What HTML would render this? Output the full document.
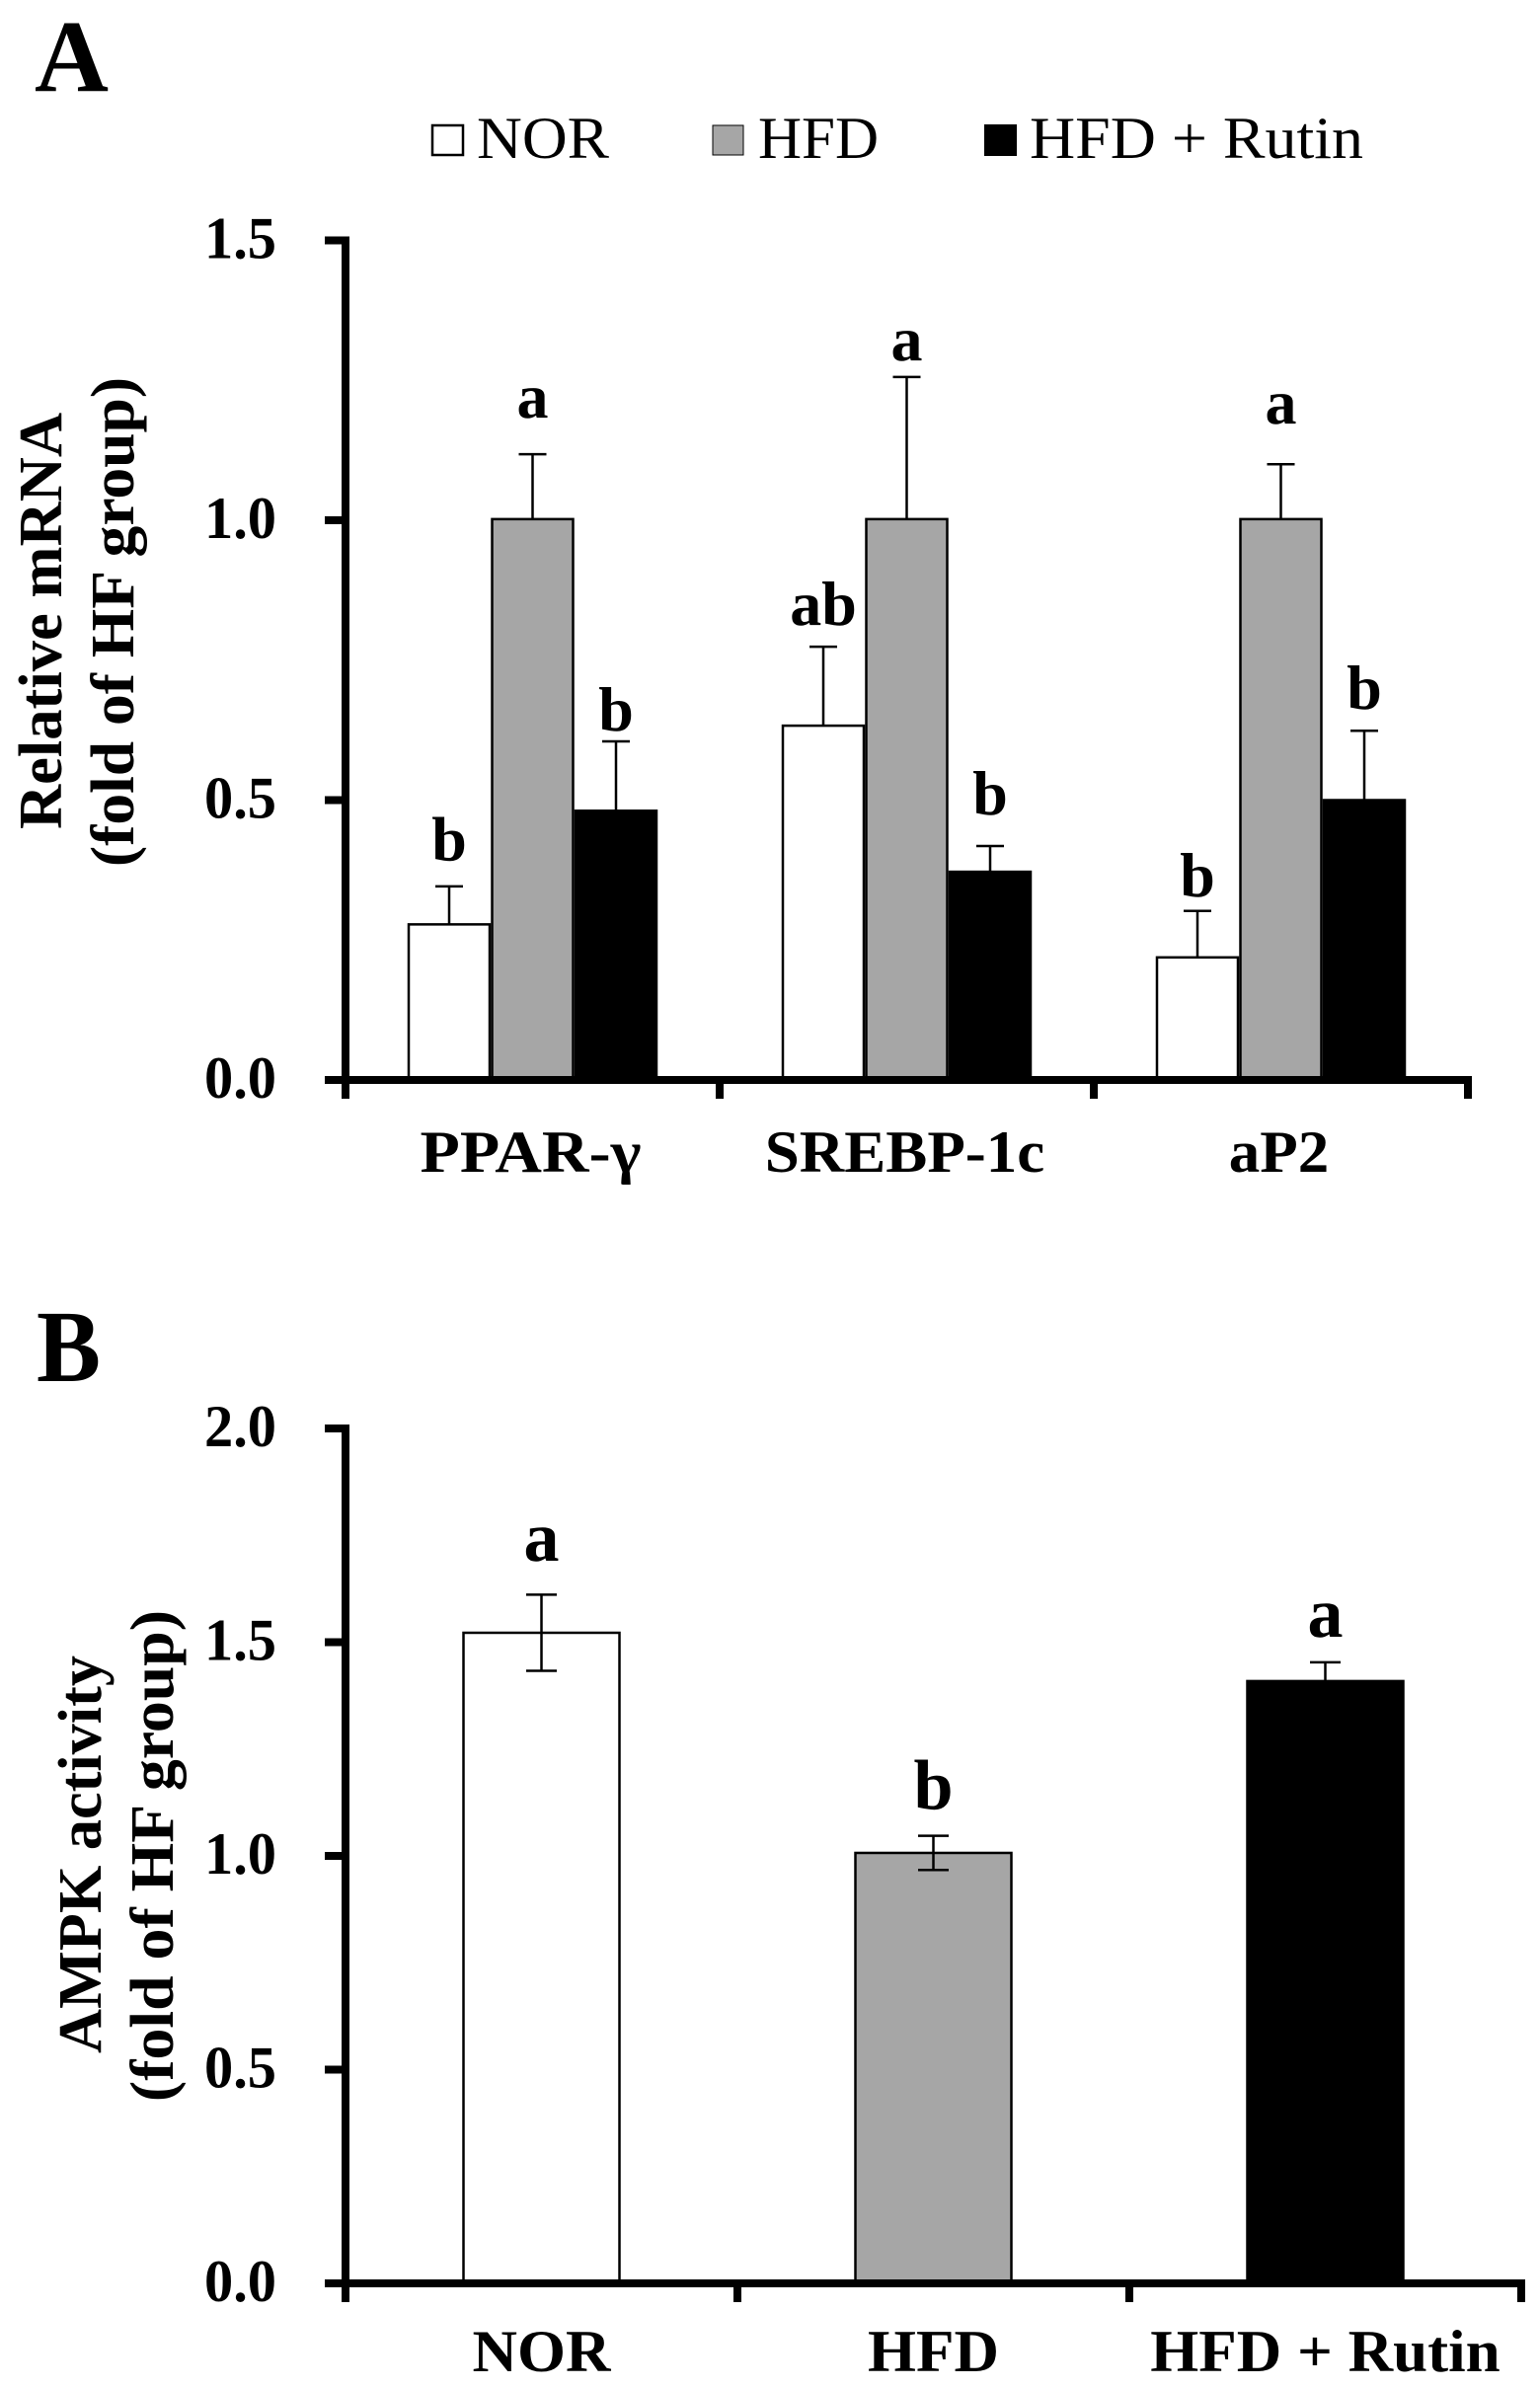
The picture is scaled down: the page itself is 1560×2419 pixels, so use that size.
<!DOCTYPE html>
<html lang="en">
<head>
<meta charset="utf-8">
<title>Relative mRNA and AMPK activity</title>
<style>
html,body{margin:0;padding:0;background:#fff;}
svg{display:block;}
text{font-family:"Liberation Serif",serif;fill:#000;}
.b{font-weight:bold;}
</style>
</head>
<body>
<svg id="fig" xmlns="http://www.w3.org/2000/svg" width="1560" height="2419" viewBox="0 0 1560 2419">
  <rect x="0" y="0" width="1560" height="2419" fill="#fff"/>

  <text class="b" x="35" y="92" font-size="104" textLength="75" lengthAdjust="spacingAndGlyphs">A</text>
  <text class="b" x="37" y="1399" font-size="104" textLength="65" lengthAdjust="spacingAndGlyphs">B</text>

  <g>
    <rect x="438" y="127" width="31" height="30" fill="#fff" stroke="#000" stroke-width="2.5"/>
    <text x="483" y="160" font-size="60" textLength="134" lengthAdjust="spacingAndGlyphs">NOR</text>
    <rect x="722" y="127" width="31" height="30" fill="#a6a6a6" stroke="#000" stroke-width="1"/>
    <text x="768" y="160" font-size="60" textLength="122" lengthAdjust="spacingAndGlyphs">HFD</text>
    <rect x="997" y="126" width="33" height="32" fill="#000"/>
    <text x="1043" y="160" font-size="60" textLength="338" lengthAdjust="spacingAndGlyphs">HFD + Rutin</text>
  </g>

  <text class="b" transform="translate(62,840) rotate(-90)" font-size="62" textLength="422" lengthAdjust="spacingAndGlyphs">Relative mRNA</text>
  <text class="b" transform="translate(135,878) rotate(-90)" font-size="62" textLength="496" lengthAdjust="spacingAndGlyphs">(fold of HF group)</text>
  <text class="b" transform="translate(102,2080) rotate(-90)" font-size="62" textLength="403" lengthAdjust="spacingAndGlyphs">AMPK activity</text>
  <text class="b" transform="translate(175,2129) rotate(-90)" font-size="62" textLength="498" lengthAdjust="spacingAndGlyphs">(fold of HF group)</text>

  <g id="chart-a"></g>
  <g id="chart-b"></g>
</svg>

<script>
// Panel A data
var categoriesA = ['PPAR-γ', 'SREBP-1c', 'aP2'];
var tickLabelsA = ['0.0', '0.5', '1.0', '1.5'];
var norA = [0.278, 0.633, 0.219];
var hfdA = [1.002, 1.002, 1.002];
var rutinA = [0.481, 0.372, 0.500];
var norErrA = [0.068, 0.141, 0.083];
var hfdErrA = [0.116, 0.254, 0.098];
var rutinErrA = [0.124, 0.046, 0.124];
var norSigA = ['b', 'ab', 'b'];
var hfdSigA = ['a', 'a', 'a'];
var rutinSigA = ['b', 'b', 'b'];
var norSigPadA = [0.046, 0.039, 0.026];
var hfdSigPadA = [0.065, 0.030, 0.073];
var rutinSigPadA = [0.019, 0.056, 0.039];

// Panel B data
var categoriesB = ['NOR', 'HFD', 'HFD + Rutin'];
var tickLabelsB = ['0.0', '0.5', '1.0', '1.5', '2.0'];
var valuesB = [1.522, 1.007, 1.409];
var errB = [0.089, 0.040, 0.044];
var sigB = ['a', 'b', 'a'];
var sigPadB = [0.079, 0.063, 0.060];

var NS = 'http://www.w3.org/2000/svg';
var FILLS = ['#ffffff', '#a6a6a6', '#000000'];

function mk(tag, attrs, parent, content) {
  var el = document.createElementNS(NS, tag);
  for (var k in attrs) { el.setAttribute(k, attrs[k]); }
  if (content !== undefined) { el.textContent = content; }
  parent.appendChild(el);
  return el;
}

// Axis functions
function yA(v) { return 1094 - 567 * v; }
function yB(v) { return 2313 - 433 * v; }
var LEFT = 350;
var BAND_A = 379;
var BAND_B = 397;
var BAR_A = 84.5;
var BAR_B = 160.5;
function centerA(i) { return LEFT + BAND_A * (i + 0.5); }
function centerB(i) { return LEFT + BAND_B * (i + 0.5); }
function barXA(group, series) { return centerA(group) + (series - 1.5) * BAR_A; }

function drawBar(parent, x, w, top, base, fill) {
  var bar = mk('rect', { x: x + 1.25, y: top, width: w - 2.5, height: base - top, fill: fill, stroke: '#000', 'stroke-width': 2.5 }, parent);
  
  
  return bar;
}

function drawErr(parent, cx, topY, botY, halfCap, both) {
  var stem = mk('line', { x1: cx, x2: cx, y1: topY, y2: botY, stroke: '#000', 'stroke-width': 2.5 }, parent);
  
  
  var cap = mk('line', { x1: cx - halfCap, x2: cx + halfCap, y1: topY, y2: topY, stroke: '#000', 'stroke-width': 2.5 }, parent);
  
  
  if (both) {
    var low = mk('line', { x1: cx - halfCap, x2: cx + halfCap, y1: botY, y2: botY, stroke: '#000', 'stroke-width': 2.5 }, parent);
    
    
  }
}

function drawSig(parent, cx, y, letter, size) {
  var t = mk('text', { x: cx, y: y, 'text-anchor': 'middle', 'font-size': size, 'class': 'b' }, parent, letter);
  
  
}

function drawAxes(parent, yFn, labels, step, topY, baseY, band, count, right) {
  var i, v;
  var yAxis = mk('rect', { x: LEFT - 4, y: topY - 4, width: 8, height: baseY - topY + 23 }, parent);
  
  
  var xAxis = mk('rect', { x: 329, y: baseY - 4, width: right - 329, height: 8 }, parent);
  
  
  for (i = 0; i < labels.length; i++) {
    v = i * step;
    var tick = mk('rect', { x: 329, y: yFn(v) - 4, width: 21, height: 8 }, parent);
    
    
    var lab = mk('text', { x: 280, y: yFn(v) + 18, 'text-anchor': 'end', 'font-size': 60, 'class': 'b', textLength: 73, lengthAdjust: 'spacingAndGlyphs' }, parent, labels[i]);
    
    
  }
  for (i = 1; i <= count; i++) {
    var xt = mk('rect', { x: LEFT + band * i - 4, y: baseY, width: 8, height: 19 }, parent);
    
    
  }
}

function stretchFor(label) {
  return label.indexOf('γ') >= 0 ? 1.1 : 1.05;
}

function drawCategory(parent, cx, y, label) {
  var t = mk('text', { x: cx, y: y, 'text-anchor': 'middle', 'font-size': 60, 'class': 'b', lengthAdjust: 'spacingAndGlyphs' }, parent, label);
  t.setAttribute('textLength', t.getComputedTextLength() * stretchFor(label));
  
  
}

// Panel A
var chartA = document.getElementById('chart-a');
var seriesA = [norA, hfdA, rutinA];
var errsA = [norErrA, hfdErrA, rutinErrA];
var sigsA = [norSigA, hfdSigA, rutinSigA];
var padsA = [norSigPadA, hfdSigPadA, rutinSigPadA];
categoriesA.forEach(function (cat, g) {
  seriesA.forEach(function (vals, s) {
    var x = barXA(g, s);
    drawBar(chartA, x, BAR_A, yA(vals[g]), yA(0), FILLS[s]);
    var top = vals[g] + errsA[s][g];
    drawErr(chartA, x + BAR_A / 2, yA(top), yA(vals[g]), 14, false);
    drawSig(chartA, x + BAR_A / 2, yA(top + padsA[s][g]), sigsA[s][g], 64);
  });
  drawCategory(chartA, centerA(g) - 2, 1187, cat);
});
drawAxes(chartA, yA, tickLabelsA, 0.5, yA(1.5), yA(0), BAND_A, 3, 1491);

// Panel B
var chartB = document.getElementById('chart-b');
categoriesB.forEach(function (cat, i) {
  var c = centerB(i);
  drawBar(chartB, c - BAR_B / 2, BAR_B, yB(valuesB[i]), yB(0), FILLS[i]);
  drawErr(chartB, c, yB(valuesB[i] + errB[i]), yB(valuesB[i] - errB[i]), 15.5, true);
  drawSig(chartB, c, yB(valuesB[i] + errB[i] + sigPadB[i]), sigB[i], 72);
  drawCategory(chartB, c, 2402, cat);
});
drawAxes(chartB, yB, tickLabelsB, 0.5, yB(2), yB(0), BAND_B, 3, 1545);
</script>
</body>
</html>
